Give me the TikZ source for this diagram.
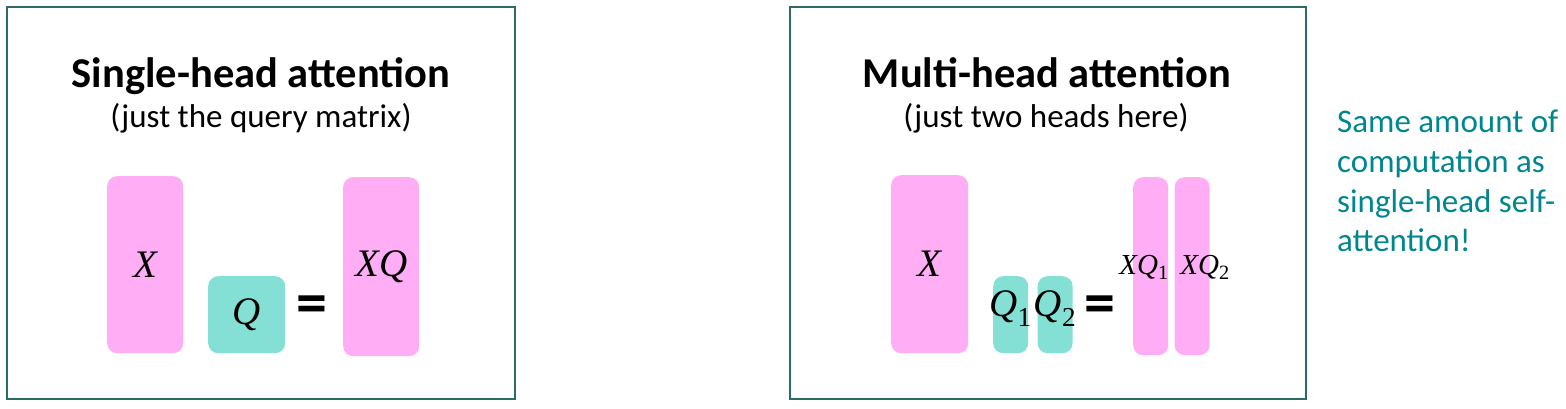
\documentclass[tikz,border=0pt]{standalone}
\usepackage{fontspec}
\setmainfont{Carlito}
\newfontfamily\matfont{Liberation Serif}
\usetikzlibrary{positioning}
\definecolor{pinkbox}{HTML}{FFADF5}
\definecolor{tealbox}{HTML}{84E0D4}
\definecolor{tealtext}{HTML}{00868F}
\definecolor{frame}{HTML}{2E6B66}
\newcommand{\msub}[1]{\textsubscript{\upshape #1}}

\begin{document}
\begin{tikzpicture}[x=1pt,y=-1pt,
    panel/.style={draw=frame,line width=1.5pt},
    mat/.style={rounded corners=10pt,inner sep=0pt,anchor=north west},
    pinkmat/.style={mat,fill=pinkbox},
    tealmat/.style={mat,fill=tealbox},
    title/.style={font=\fontsize{42.5}{49}\selectfont\bfseries,anchor=base},
    subtitle/.style={font=\fontsize{33}{38}\selectfont,anchor=base},
    sym/.style={font=\fontsize{39}{42}\selectfont\matfont\itshape},
    smallsym/.style={font=\fontsize{29}{30}\selectfont\matfont\itshape},
    eq/.style={font=\fontsize{62}{64}\selectfont\bfseries},
    note/.style={font=\fontsize{33}{38}\selectfont,text=tealtext,anchor=base west,inner sep=0pt}]
\useasboundingbox (0,0) rectangle (1566,409);

% single head
\draw[panel] (7,7) rectangle (515,399);
\node[title]    (t1) at (261,88)  {Single-head attention};
\node[subtitle] (s1) at (261,128) {(just the query matrix)};

\node[pinkmat,minimum width=76pt,minimum height=177pt] (X) at (107,176) {};
\node[tealmat,minimum width=77pt,minimum height=77pt]  (Q) at (208,276) {};
\node[pinkmat,minimum width=76pt,minimum height=179pt] (XQ) at (343,177) {};
\node[sym] at (X)  {X};
\node[sym] at (Q)  {Q};
\node[sym] at (XQ) {XQ};
\node[eq] (eq1) at (312,310) {=};

% multi head
\draw[panel] (790,7) rectangle (1306,399);
\node[title]    (t2) at (1047,88)  {Multi-head attention};
\node[subtitle] (s2) at (1046,128) {(just two heads here)};

\node[pinkmat,minimum width=77pt,minimum height=178pt] (X2) at (891,175) {};
\node[tealmat,minimum width=35pt,minimum height=77pt]  (Q1) at (993,276) {};
\node[tealmat,minimum width=35pt,minimum height=77pt]  (Q2) [right=9pt of Q1] {};
\node[pinkmat,minimum width=35pt,minimum height=178pt] (XQ1) at (1133,177) {};
\node[pinkmat,minimum width=35pt,minimum height=178pt] (XQ2) [right=6pt of XQ1] {};
\node[sym] at (X2) {X};
\node[sym] at ([yshift=6pt]Q1) {Q\msub{1}};
\node[sym] at ([yshift=6pt]Q2) {Q\msub{2}};
\node[smallsym] at (1144,267) {XQ\msub{1}};
\node[smallsym] at (1205,267) {XQ\msub{2}};
\node[eq] (eq2) at (1100,310) {=};

% side note
\foreach \txt [count=\i] in {Same amount of,computation as,single-head self-,attention!}
  \node[note] (note\i) at (1337,{133+39.6*(\i-1)}) {\txt};
\end{tikzpicture}
\end{document}
